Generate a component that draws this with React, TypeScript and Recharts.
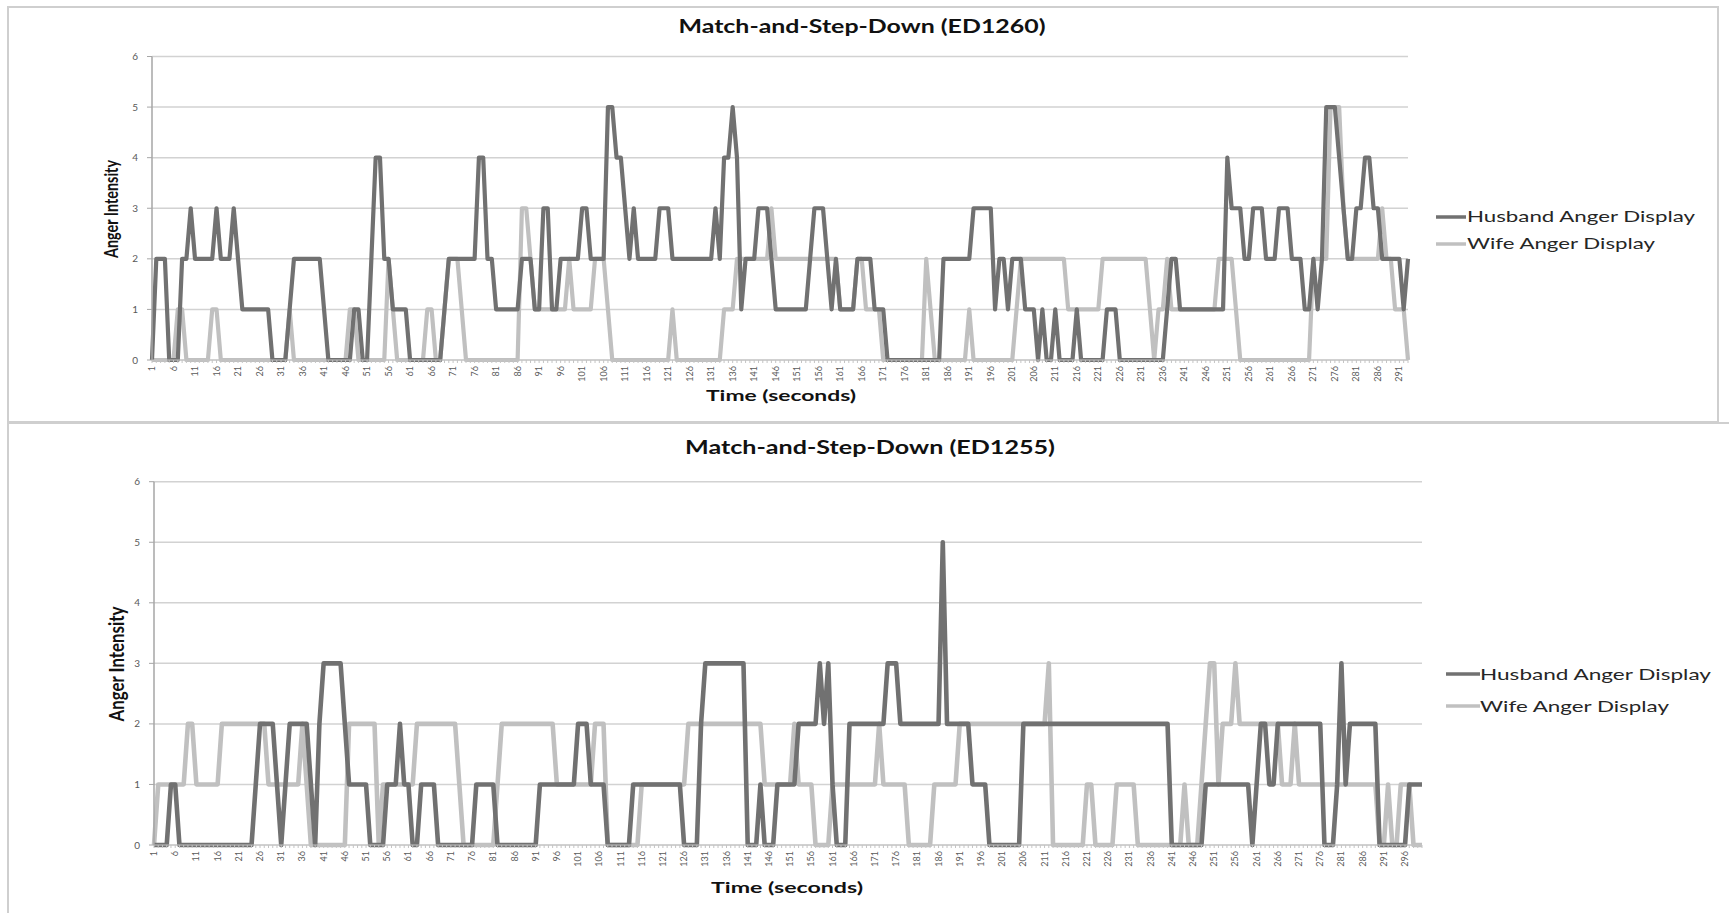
import { LineChart, Line, XAxis, YAxis, CartesianGrid, Legend } from 'recharts'

// ED1260, seconds 1..293
const husband1260 = [
  0, 2, 2, 2, 0, 0, 0, 2, 2, 3,
  2, 2, 2, 2, 2, 3, 2, 2, 2, 3,
  2, 1, 1, 1, 1, 1, 1, 1, 0, 0,
  0, 0, 1, 2, 2, 2, 2, 2, 2, 2,
  1, 0, 0, 0, 0, 0, 0, 1, 1, 0,
  0, 2, 4, 4, 2, 2, 1, 1, 1, 1,
  0, 0, 0, 0, 0, 0, 0, 0, 1, 2,
  2, 2, 2, 2, 2, 2, 4, 4, 2, 2,
  1, 1, 1, 1, 1, 1, 2, 2, 2, 1,
  1, 3, 3, 1, 1, 2, 2, 2, 2, 2,
  3, 3, 2, 2, 2, 2, 5, 5, 4, 4,
  3, 2, 3, 2, 2, 2, 2, 2, 3, 3,
  3, 2, 2, 2, 2, 2, 2, 2, 2, 2,
  2, 3, 2, 4, 4, 5, 4, 1, 2, 2,
  2, 3, 3, 3, 2, 1, 1, 1, 1, 1,
  1, 1, 1, 2, 3, 3, 3, 2, 1, 2,
  1, 1, 1, 1, 2, 2, 2, 2, 1, 1,
  1, 0, 0, 0, 0, 0, 0, 0, 0, 0,
  0, 0, 0, 0, 2, 2, 2, 2, 2, 2,
  2, 3, 3, 3, 3, 3, 1, 2, 2, 1,
  2, 2, 2, 1, 1, 1, 0, 1, 0, 0,
  1, 0, 0, 0, 0, 1, 0, 0, 0, 0,
  0, 0, 1, 1, 1, 0, 0, 0, 0, 0,
  0, 0, 0, 0, 0, 0, 1, 2, 2, 1,
  1, 1, 1, 1, 1, 1, 1, 1, 1, 1,
  4, 3, 3, 3, 2, 2, 3, 3, 3, 2,
  2, 2, 3, 3, 3, 2, 2, 2, 1, 1,
  2, 1, 2, 5, 5, 5, 4, 3, 2, 2,
  3, 3, 4, 4, 3, 3, 2, 2, 2, 2,
  2, 1, 2,
]

const wife1260 = [
  0, 0, 0, 0, 0, 0, 1, 1, 0, 0,
  0, 0, 0, 0, 1, 1, 0, 0, 0, 0,
  0, 0, 0, 0, 0, 0, 0, 0, 0, 0,
  0, 0, 1, 0, 0, 0, 0, 0, 0, 0,
  0, 0, 0, 0, 0, 0, 1, 1, 0, 0,
  0, 0, 0, 0, 0, 2, 1, 0, 0, 0,
  0, 0, 0, 0, 1, 1, 0, 0, 1, 2,
  2, 2, 1, 0, 0, 0, 0, 0, 0, 0,
  0, 0, 0, 0, 0, 0, 3, 3, 2, 1,
  1, 1, 1, 1, 1, 1, 1, 2, 1, 1,
  1, 1, 1, 2, 2, 2, 1, 0, 0, 0,
  0, 0, 0, 0, 0, 0, 0, 0, 0, 0,
  0, 1, 0, 0, 0, 0, 0, 0, 0, 0,
  0, 0, 0, 1, 1, 1, 2, 2, 2, 2,
  2, 2, 2, 2, 3, 2, 2, 2, 2, 2,
  2, 2, 2, 2, 2, 2, 2, 2, 2, 2,
  1, 1, 1, 1, 2, 2, 1, 1, 1, 1,
  0, 0, 0, 0, 0, 0, 0, 0, 0, 0,
  2, 1, 0, 0, 0, 0, 0, 0, 0, 0,
  1, 0, 0, 0, 0, 0, 0, 0, 0, 0,
  0, 1, 2, 2, 2, 2, 2, 2, 2, 2,
  2, 2, 2, 1, 1, 1, 1, 1, 1, 1,
  1, 2, 2, 2, 2, 2, 2, 2, 2, 2,
  2, 2, 1, 0, 1, 1, 2, 1, 1, 1,
  1, 1, 1, 1, 1, 1, 1, 1, 2, 2,
  2, 2, 1, 0, 0, 0, 0, 0, 0, 0,
  0, 0, 0, 0, 0, 0, 0, 0, 0, 0,
  2, 2, 2, 2, 5, 5, 5, 3, 2, 2,
  2, 2, 2, 2, 2, 2, 3, 2, 2, 1,
  1, 1, 0,
]

// ED1255, seconds 1..300
const husband1255 = [
  0, 0, 0, 0, 1, 1, 0, 0, 0, 0,
  0, 0, 0, 0, 0, 0, 0, 0, 0, 0,
  0, 0, 0, 0, 1, 2, 2, 2, 2, 1,
  0, 1, 2, 2, 2, 2, 2, 1, 0, 2,
  3, 3, 3, 3, 3, 2, 1, 1, 1, 1,
  1, 0, 0, 0, 0, 1, 1, 1, 2, 1,
  1, 0, 0, 1, 1, 1, 1, 0, 0, 0,
  0, 0, 0, 0, 0, 0, 1, 1, 1, 1,
  1, 0, 0, 0, 0, 0, 0, 0, 0, 0,
  0, 1, 1, 1, 1, 1, 1, 1, 1, 1,
  2, 2, 2, 1, 1, 1, 1, 0, 0, 0,
  0, 0, 0, 1, 1, 1, 1, 1, 1, 1,
  1, 1, 1, 1, 1, 0, 0, 0, 0, 2,
  3, 3, 3, 3, 3, 3, 3, 3, 3, 3,
  0, 0, 0, 1, 0, 0, 0, 1, 1, 1,
  1, 1, 2, 2, 2, 2, 2, 3, 2, 3,
  1, 0, 0, 0, 2, 2, 2, 2, 2, 2,
  2, 2, 2, 3, 3, 3, 2, 2, 2, 2,
  2, 2, 2, 2, 2, 2, 5, 2, 2, 2,
  2, 2, 2, 1, 1, 1, 1, 0, 0, 0,
  0, 0, 0, 0, 0, 2, 2, 2, 2, 2,
  2, 2, 2, 2, 2, 2, 2, 2, 2, 2,
  2, 2, 2, 2, 2, 2, 2, 2, 2, 2,
  2, 2, 2, 2, 2, 2, 2, 2, 2, 2,
  0, 0, 0, 0, 0, 0, 0, 0, 1, 1,
  1, 1, 1, 1, 1, 1, 1, 1, 1, 0,
  1, 2, 2, 1, 1, 2, 2, 2, 2, 2,
  2, 2, 2, 2, 2, 2, 0, 0, 0, 1,
  3, 1, 2, 2, 2, 2, 2, 2, 2, 0,
  0, 0, 0, 0, 0, 0, 1, 1, 1, 1,
]

const wife1255 = [
  0, 1, 1, 1, 1, 1, 1, 1, 2, 2,
  1, 1, 1, 1, 1, 1, 2, 2, 2, 2,
  2, 2, 2, 2, 2, 2, 2, 1, 1, 1,
  1, 1, 1, 1, 1, 2, 1, 0, 0, 0,
  0, 0, 0, 0, 0, 0, 2, 2, 2, 2,
  2, 2, 2, 0, 1, 1, 1, 1, 1, 1,
  1, 1, 2, 2, 2, 2, 2, 2, 2, 2,
  2, 2, 1, 0, 0, 0, 0, 0, 0, 0,
  0, 1, 2, 2, 2, 2, 2, 2, 2, 2,
  2, 2, 2, 2, 2, 1, 1, 1, 1, 1,
  1, 1, 1, 1, 2, 2, 2, 0, 0, 0,
  0, 0, 0, 0, 0, 1, 1, 1, 1, 1,
  1, 1, 1, 1, 1, 1, 2, 2, 2, 2,
  2, 2, 2, 2, 2, 2, 2, 2, 2, 2,
  2, 2, 2, 2, 1, 1, 1, 1, 1, 1,
  1, 2, 1, 1, 1, 1, 0, 0, 0, 0,
  1, 1, 1, 1, 1, 1, 1, 1, 1, 1,
  1, 2, 1, 1, 1, 1, 1, 1, 0, 0,
  0, 0, 0, 0, 1, 1, 1, 1, 1, 1,
  2, 2, 2, 2, 2, 2, 2, 2, 2, 2,
  2, 2, 2, 2, 2, 2, 2, 2, 2, 2,
  2, 3, 0, 0, 0, 0, 0, 0, 0, 0,
  1, 1, 0, 0, 0, 0, 0, 1, 1, 1,
  1, 1, 0, 0, 0, 0, 0, 0, 0, 0,
  0, 0, 0, 1, 0, 0, 0, 1, 2, 3,
  3, 1, 2, 2, 2, 3, 2, 2, 2, 2,
  2, 2, 2, 2, 2, 2, 1, 1, 1, 2,
  1, 1, 1, 1, 1, 1, 1, 1, 1, 1,
  1, 1, 1, 1, 1, 1, 1, 1, 1, 0,
  0, 1, 0, 0, 1, 1, 1, 0, 0, 0,
]

const yTicks = [0, 1, 2, 3, 4, 5, 6]
const seriesNames = ['Husband Anger Display', 'Wife Anger Display']
const titles = ['Match-and-Step-Down (ED1260)', 'Match-and-Step-Down (ED1255)']
const xTitle = 'Time (seconds)'
const yTitle = 'Anger Intensity'

const DARK = '#717171'
const LIGHT = '#c0c0c0'
const FONT = 'Lato, "Open Sans", sans-serif'

function toRows(h: number[], w: number[]) {
  return h.map((v, i) => ({ t: i + 1, h: v, w: w[i] }))
}

function TimeTick({ x = 0, y = 0, payload }: any) {
  const t = payload?.value
  if ((t - 1) % 5 !== 0) return <g />
  return (
    <text
      x={x}
      y={y + 1}
      transform={`rotate(-90 ${x} ${y + 1})`}
      textAnchor="end"
      dy="0.34em"
      fontSize={9}
      fill="#595959"
      fontFamily={FONT}
    >
      {t}
    </text>
  )
}

interface LegendLayout {
  left: number
  top: number
  rows: number[]
  x1: number
  x2: number
  tx: number
  fontSize: number
  lengths: number[]
}

function LegendBox({ l }: { l: LegendLayout }) {
  const colors = [DARK, LIGHT]
  return (
    <svg width={320} height={70} style={{ display: 'block' }}>
      {seriesNames.map((n, i) => (
        <g key={n}>
          <line x1={l.x1} x2={l.x2} y1={l.rows[i]} y2={l.rows[i]} stroke={colors[i]} strokeWidth={3.5} />
          <text
            x={l.tx}
            y={l.rows[i]}
            dy="0.36em"
            fontSize={l.fontSize}
            fill="#262626"
            fontFamily={FONT}
            textLength={l.lengths[i]}
            lengthAdjust="spacingAndGlyphs"
          >
            {n}
          </text>
        </g>
      ))}
    </svg>
  )
}

interface PanelProps {
  h: number[]
  w: number[]
  title: string
  top: number
  height: number
  margin: { top: number; right: number; bottom: number; left: number }
  yWidth: number
  stroke: number
  titleY: number
  titleX: number
  titleLen: number
  titleSize: number
  xTitleX: number
  xTitleY: number
  xTitleLen: number
  xTitleSize: number
  yTitleX: number
  yTitleY: number
  yTitleLen: number
  yTitleSize: number
  legend: LegendLayout
}

function Panel(p: PanelProps) {
  const data = toRows(p.h, p.w)
  return (
    <div style={{ position: 'absolute', left: 0, top: p.top }}>
      <LineChart width={1729} height={p.height} data={data} margin={p.margin}>
        <text
          x={p.titleX}
          y={p.titleY}
          textAnchor="middle"
          fontSize={p.titleSize}
          fontWeight={700}
          fill="#111"
          fontFamily={FONT}
          textLength={p.titleLen}
          lengthAdjust="spacingAndGlyphs"
        >
          {p.title}
        </text>
        <text
          x={p.xTitleX}
          y={p.xTitleY}
          textAnchor="middle"
          fontSize={p.xTitleSize}
          fontWeight={700}
          fill="#111"
          fontFamily={FONT}
          textLength={p.xTitleLen}
          lengthAdjust="spacingAndGlyphs"
        >
          {xTitle}
        </text>
        <text
          x={0}
          y={0}
          transform={`translate(${p.yTitleX} ${p.yTitleY}) rotate(-90)`}
          textAnchor="middle"
          dy="0.36em"
          fontSize={p.yTitleSize}
          fontWeight={700}
          fill="#111"
          fontFamily={FONT}
          textLength={p.yTitleLen}
          lengthAdjust="spacingAndGlyphs"
        >
          {yTitle}
        </text>
        <CartesianGrid vertical={false} stroke="#d2d2d2" strokeWidth={1.5} />
        <XAxis
          dataKey="t"
          interval={0}
          height={40}
          tickSize={3}
          tickMargin={2}
          axisLine={{ stroke: '#c4c4c4' }}
          tickLine={{ stroke: '#c4c4c4' }}
          tick={<TimeTick />}
        />
        <YAxis
          type="number"
          domain={[0, 6]}
          ticks={yTicks}
          interval={0}
          width={p.yWidth}
          tickSize={5}
          tickMargin={9}
          axisLine={{ stroke: '#a6a6a6', strokeWidth: 1.5 }}
          tickLine={{ stroke: '#a6a6a6' }}
          tick={{ fontSize: 10, fill: '#595959', fontFamily: FONT }}
        />
        <Line
          type="linear"
          dataKey="w"
          name={seriesNames[1]}
          stroke={LIGHT}
          strokeWidth={p.stroke}
          strokeLinejoin="round"
          dot={false}
          isAnimationActive={false}
        />
        <Line
          type="linear"
          dataKey="h"
          name={seriesNames[0]}
          stroke={DARK}
          strokeWidth={p.stroke}
          strokeLinejoin="round"
          dot={false}
          isAnimationActive={false}
        />
        <Legend
          layout="vertical"
          align="center"
          verticalAlign="middle"
          wrapperStyle={{ left: p.legend.left, top: p.legend.top, width: 320, height: 70 }}
          content={() => <LegendBox l={p.legend} />}
        />
      </LineChart>
    </div>
  )
}

export default function App() {
  return (
    <div
      style={{
        position: 'absolute',
        left: 0,
        top: 0,
        width: 1729,
        height: 913,
        background: '#fff',
        overflow: 'hidden',
        fontFamily: FONT,
      }}
    >
      <div style={{ position: 'absolute', left: 7, top: 6, width: 1708, height: 413, border: '2px solid #cfcfcf' }} />
      <div style={{ position: 'absolute', left: 7, top: 422, width: 1740, height: 520, border: '2px solid #cfcfcf' }} />
      <Panel
        h={husband1260}
        w={wife1260}
        title={titles[0]}
        top={0}
        height={420}
        margin={{ top: 56.5, right: 321, bottom: 20, left: 0 }}
        yWidth={152}
        stroke={4.2}
        titleX={862}
        titleY={33}
        titleLen={367}
        titleSize={18}
        xTitleX={781}
        xTitleY={401}
        xTitleLen={150}
        xTitleSize={15}
        yTitleX={112}
        yTitleY={209}
        yTitleLen={98}
        yTitleSize={18}
        legend={{ left: 1430, top: 200, rows: [17, 44], x1: 6, x2: 36, tx: 37, fontSize: 15, lengths: [228, 188] }}
      />
      <Panel
        h={husband1255}
        w={wife1255}
        title={titles[1]}
        top={420}
        height={493}
        margin={{ top: 61.7, right: 307, bottom: 28, left: 0 }}
        yWidth={154}
        stroke={4.6}
        titleX={870}
        titleY={34}
        titleLen={370}
        titleSize={18}
        xTitleX={787}
        xTitleY={473}
        xTitleLen={152}
        xTitleSize={16}
        yTitleX={117}
        yTitleY={244}
        yTitleLen={115}
        yTitleSize={20}
        legend={{ left: 1440, top: 235, rows: [19, 51], x1: 6, x2: 40, tx: 40, fontSize: 16, lengths: [231, 189] }}
      />
    </div>
  )
}
